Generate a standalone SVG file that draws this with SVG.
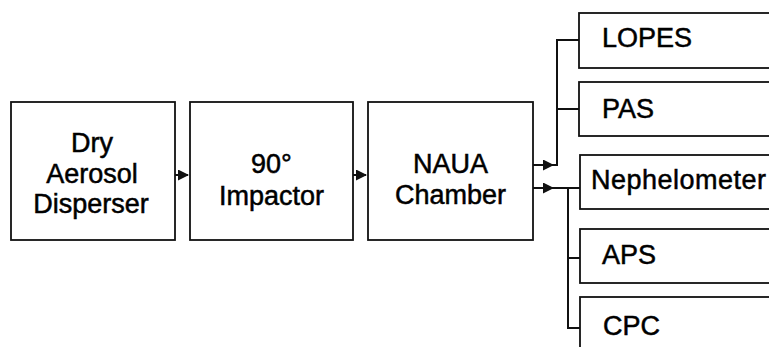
<svg xmlns="http://www.w3.org/2000/svg" width="769" height="347" viewBox="0 0 769 347">
  <style>
    .box { fill: #ffffff; stroke: #111111; stroke-width: 1.8; }
    .lbl { font-family: "Liberation Sans", Arial, sans-serif; font-size: 27px; fill: #000000; stroke: #000000; stroke-width: 0.5; }
    .mid { text-anchor: middle; }
    .wire { fill: none; stroke: #111111; stroke-width: 2; }
  </style>
  <defs>
    <marker id="arrow" markerUnits="userSpaceOnUse" markerWidth="12" markerHeight="12" refX="10" refY="5.5" orient="auto">
      <path d="M0,0 L11,5.5 L0,11 Z" fill="#111111"/>
    </marker>
  </defs>
  <rect width="769" height="347" fill="#ffffff"/>

  <g id="connectors">
    <line class="wire" x1="175" y1="175" x2="188" y2="175" marker-end="url(#arrow)"/>
    <line class="wire" x1="353" y1="175" x2="366" y2="175" marker-end="url(#arrow)"/>
    <!-- upper branch: LOPES, PAS -->
    <line class="wire" x1="533" y1="165" x2="553" y2="165" marker-end="url(#arrow)"/>
    <path class="wire" d="M553,165 H557 V40 H579 M557,109 H579"/>
    <!-- lower branch: Nephelometer, APS, CPC -->
    <line class="wire" x1="533" y1="188" x2="553" y2="188" marker-end="url(#arrow)"/>
    <path class="wire" d="M553,188 H580 M568,188 V328 H580 M568,258 H580"/>
  </g>

  <g id="disperser">
    <rect class="box" x="11" y="102" width="164" height="138"/>
    <text class="lbl mid" x="92" y="152">Dry</text>
    <text class="lbl mid" x="92" y="183">Aerosol</text>
    <text class="lbl mid" x="91" y="213">Disperser</text>
  </g>
  <g id="impactor">
    <rect class="box" x="190" y="102" width="163" height="138"/>
    <text class="lbl mid" x="271.5" y="173">90°</text>
    <text class="lbl mid" x="271.5" y="205">Impactor</text>
  </g>
  <g id="chamber">
    <rect class="box" x="368" y="102" width="165" height="138"/>
    <text class="lbl mid" x="450.5" y="173">NAUA</text>
    <text class="lbl mid" x="450.5" y="204">Chamber</text>
  </g>

  <g id="lopes">
    <rect class="box" x="579" y="13" width="200" height="55"/>
    <text class="lbl" x="602" y="47">LOPES</text>
  </g>
  <g id="pas">
    <rect class="box" x="579" y="82" width="200" height="54"/>
    <text class="lbl" x="602" y="118">PAS</text>
  </g>
  <g id="nephelometer">
    <rect class="box" x="580" y="155" width="200" height="54"/>
    <text class="lbl" x="591" y="189" textLength="175" lengthAdjust="spacing">Nephelometer</text>
  </g>
  <g id="aps">
    <rect class="box" x="580" y="229" width="200" height="54"/>
    <text class="lbl" x="602" y="264">APS</text>
  </g>
  <g id="cpc">
    <rect class="box" x="580" y="297" width="200" height="60"/>
    <text class="lbl" x="603" y="335">CPC</text>
  </g>
</svg>
